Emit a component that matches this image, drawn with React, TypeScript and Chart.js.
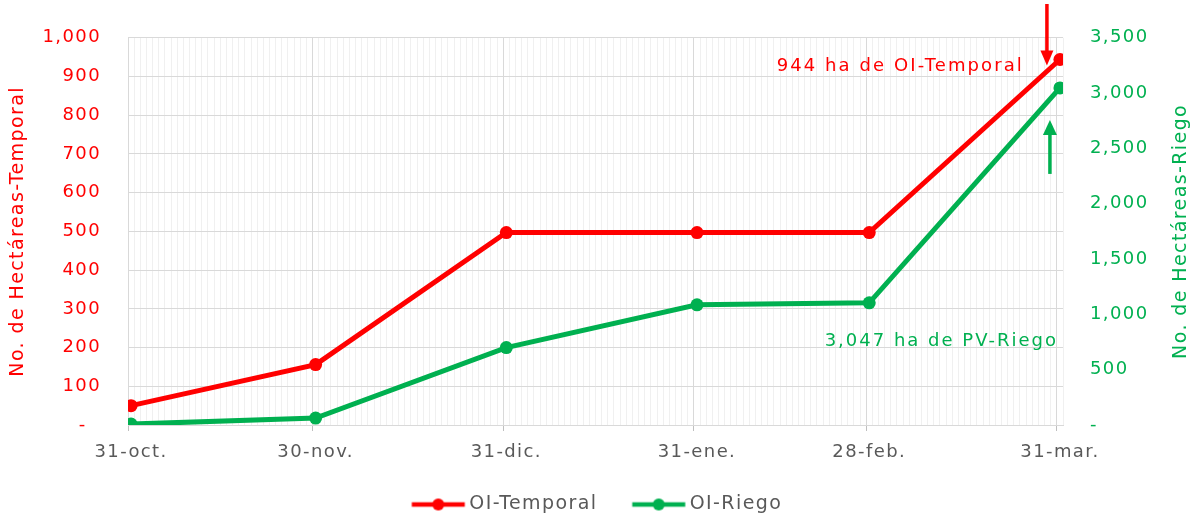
import { useEffect, useRef } from 'react';
import { Chart, registerables } from 'chart.js';

Chart.register(...registerables);

// ---- data ----
const dateLabels = ['31-oct.', '30-nov.', '31-dic.', '31-ene.', '28-feb.', '31-mar.'];
const dayOffsets = [0, 30, 61, 92, 120, 151]; // days since 31-oct
const totalDays = 152;
const temporalValues = [50, 156, 497, 497, 497, 944];
const riegoValues = [8, 63, 700, 1086, 1104, 3047];
const leftTickStep = 100;
const rightTickStep = 500;
const temporalNote = '944 ha de OI-Temporal';
const riegoNote = '3,047 ha de PV-Riego';
const riegoNoteLevel = 754;
const leftTitle = 'No. de Hectáreas-Temporal';
const rightTitle = 'No. de Hectáreas-Riego';

const RED = '#FF0000';
const GREEN = '#00B050';
const GRAY = '#595959';
const FONT = "'DejaVu Sans', sans-serif";
const SPACING = '1.4px';

function makeSwatch(color: string) {
  const c = document.createElement('canvas');
  c.width = 56;
  c.height = 14;
  const g = c.getContext('2d')!;
  g.strokeStyle = color;
  g.lineWidth = 4.5;
  g.beginPath();
  g.moveTo(1.5, 7);
  g.lineTo(54.5, 7);
  g.stroke();
  g.fillStyle = color;
  g.beginPath();
  g.arc(28, 7, 6, 0, Math.PI * 2);
  g.fill();
  return c;
}

function drawArrow(ctx: CanvasRenderingContext2D, x: number, y0: number, y1: number, color: string, headW: number, headL: number) {
  const dir = y1 > y0 ? 1 : -1;
  ctx.save();
  ctx.strokeStyle = color;
  ctx.fillStyle = color;
  ctx.lineWidth = 3.5;
  ctx.beginPath();
  ctx.moveTo(x, y0);
  ctx.lineTo(x, y1 - dir * headL * 0.8);
  ctx.stroke();
  ctx.beginPath();
  ctx.moveTo(x, y1);
  ctx.lineTo(x - headW / 2, y1 - dir * headL);
  ctx.lineTo(x + headW / 2, y1 - dir * headL);
  ctx.closePath();
  ctx.fill();
  ctx.restore();
}

const spacingPlugin = {
  id: 'letterSpacing',
  beforeUpdate(chart: any) {
    (chart.ctx as any).letterSpacing = SPACING;
  },
  beforeDraw(chart: any) {
    (chart.ctx as any).letterSpacing = SPACING;
  },
};

const notesPlugin = {
  id: 'notes',
  afterDraw(chart: any) {
    const { ctx, scales, chartArea } = chart;
    const x = scales.x;
    const y = scales.y;
    const y1 = scales.y1;
    const lastX = x.getPixelForValue(dayOffsets[dayOffsets.length - 1]);
    const tY = y.getPixelForValue(temporalValues[temporalValues.length - 1]);
    const rY = y1.getPixelForValue(riegoValues[riegoValues.length - 1]);
    ctx.save();
    (ctx as any).letterSpacing = '2.1px';
    ctx.font = `18px ${FONT}`;
    ctx.textAlign = 'right';
    ctx.textBaseline = 'middle';
    ctx.fillStyle = RED;
    ctx.fillText(temporalNote, lastX - 36, tY + 7);
    (ctx as any).letterSpacing = '2px';
    ctx.fillStyle = GREEN;
    ctx.fillText(riegoNote, lastX - 2, y1.getPixelForValue(riegoNoteLevel));
    // axis titles, both reading bottom-to-top
    (ctx as any).letterSpacing = SPACING;
    ctx.font = `19px ${FONT}`;
    ctx.textAlign = 'center';
    const midY = (chartArea.top + chartArea.bottom) / 2;
    ctx.save();
    ctx.translate(18, midY);
    ctx.rotate(-Math.PI / 2);
    ctx.fillStyle = RED;
    ctx.fillText(leftTitle, 0, 0);
    ctx.restore();
    ctx.save();
    ctx.translate(y1.right - 18, midY);
    ctx.rotate(-Math.PI / 2);
    ctx.fillStyle = GREEN;
    ctx.fillText(rightTitle, 0, 0);
    ctx.restore();
    ctx.restore();
    drawArrow(ctx, lastX - 13, 4, tY + 6, RED, 13, 15);
    drawArrow(ctx, lastX - 10, rY + 86, rY + 32, GREEN, 14, 15);
  },
};

export default function App() {
  const ref = useRef<HTMLCanvasElement | null>(null);

  useEffect(() => {
    document.body.style.margin = '0';
    const canvas = ref.current!;
    const fmt = (v: number) => v.toLocaleString('en-US');
    const isMajorBoundary = (v: number) => v === -0.5 || dayOffsets.some((d) => d - 0.5 === v);

    const chart = new Chart(canvas, {
      type: 'line',
      data: {
        datasets: [
          {
            label: 'OI-Temporal',
            data: dayOffsets.map((d, i) => ({ x: d, y: temporalValues[i] })),
            borderColor: RED,
            backgroundColor: RED,
            borderWidth: 5,
            pointRadius: 6.5,
            pointHoverRadius: 6.5,
            pointBackgroundColor: RED,
            pointBorderWidth: 0,
            yAxisID: 'y',
            tension: 0,
          },
          {
            label: 'OI-Riego',
            data: dayOffsets.map((d, i) => ({ x: d, y: riegoValues[i] })),
            borderColor: GREEN,
            backgroundColor: GREEN,
            borderWidth: 5,
            pointRadius: 6.5,
            pointHoverRadius: 6.5,
            pointBackgroundColor: GREEN,
            pointBorderWidth: 0,
            yAxisID: 'y1',
            tension: 0,
          },
        ],
      },
      options: {
        responsive: false,
        animation: false,
        devicePixelRatio: 1,
        layout: { padding: { top: 35, left: 0, right: 0, bottom: -8 } },
        plugins: {
          tooltip: { enabled: false },
          legend: {
            position: 'bottom',
            labels: {
              usePointStyle: true,
              pointStyleWidth: 43,
              padding: 25,
              color: GRAY,
              font: { family: FONT, size: 19 },
              generateLabels: (ch: any) =>
                ch.data.datasets.map((ds: any, i: number) => ({
                  text: i === 0 ? ds.label + '  ' : ds.label,
                  fillStyle: ds.borderColor,
                  strokeStyle: ds.borderColor,
                  fontColor: GRAY,
                  lineWidth: 0,
                  pointStyle: makeSwatch(ds.borderColor),
                  hidden: false,
                  datasetIndex: i,
                })),
            },
          },
        },
        scales: {
          x: {
            type: 'linear',
            min: -0.5,
            max: totalDays - 0.5,
            afterBuildTicks: (scale: any) => {
              const t: { value: number }[] = [];
              for (let k = 0; k <= totalDays; k++) t.push({ value: k - 0.5 });
              dayOffsets.forEach((d) => t.push({ value: d }));
              t.sort((a, b) => a.value - b.value);
              scale.ticks = t;
            },
            afterFit: (scale: any) => {
              scale.height = 45;
            },
            ticks: {
              autoSkip: false,
              maxRotation: 0,
              minRotation: 0,
              padding: 11,
              color: GRAY,
              font: { family: FONT, size: 18 },
              callback: (v: any) => {
                const i = dayOffsets.indexOf(Number(v));
                return i >= 0 ? dateLabels[i] : '';
              },
            },
            grid: {
              lineWidth: 1,
              tickLength: 6,
              color: (c: any) => {
                const v = c.tick ? c.tick.value : 0;
                if (Number.isInteger(v)) return 'rgba(0,0,0,0)';
                return isMajorBoundary(v) ? '#d9d9d9' : '#f0f0f0';
              },
              tickColor: (c: any) => {
                const v = c.tick ? c.tick.value : 0;
                return isMajorBoundary(v) ? '#bfbfbf' : 'rgba(0,0,0,0)';
              },
            },
            border: { color: '#d9d9d9', width: 1 },
          },
          y: {
            position: 'left',
            min: 0,
            max: 1000,
            ticks: {
              stepSize: leftTickStep,
              padding: 27,
              color: RED,
              font: { family: FONT, size: 18 },
              callback: (v: any) => (Number(v) === 0 ? '-  ' : fmt(Number(v))),
            },
            grid: { color: '#d9d9d9', lineWidth: 1, drawTicks: false },
            border: { display: false },
            title: { display: false },
            afterFit: (scale: any) => {
              scale.width = 128;
            },
          },
          y1: {
            position: 'right',
            min: 0,
            max: 3500,
            ticks: {
              stepSize: rightTickStep,
              padding: 27,
              color: GREEN,
              font: { family: FONT, size: 18 },
              callback: (v: any) => (Number(v) === 0 ? '-' : fmt(Number(v))),
            },
            grid: { drawOnChartArea: false, drawTicks: false },
            border: { display: false },
            title: { display: false },
            afterFit: (scale: any) => {
              scale.width = 136;
            },
          },
        },
      } as any,
      plugins: [spacingPlugin, notesPlugin],
    });

    return () => chart.destroy();
  }, []);

  return (
    <div style={{ width: 1199, height: 516 }}>
      <canvas ref={ref} width={1199} height={516} style={{ display: 'block' }} />
    </div>
  );
}
